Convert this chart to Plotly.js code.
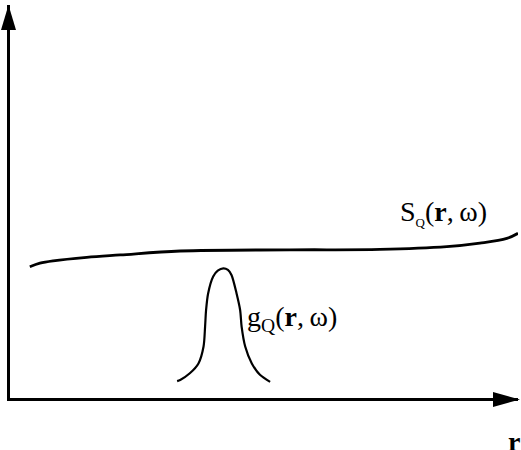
<!DOCTYPE html>
<html>
<head>
<meta charset="utf-8">
<script src="https://cdn.plot.ly/plotly-3.0.1.min.js"></script>
<style>
  html, body { margin: 0; padding: 0; background: #fff; }
  #chart { width: 521px; height: 450px; }
</style>
</head>
<body>
<div id="chart"></div>
<script>
// Schematic: slowly varying S_Q(r, w) vs localized g_Q(r, w)
// values are in arbitrary units (r: 0-100, amplitude: 0-100)

// S_Q(r, w) - nearly flat, rising at both ends
const sR = [3.9, 5.9, 8.5, 15.1, 21.7, 33.5, 55.1, 72.8, 86.0, 92.5, 97.8, 100];
const sAmp = [33.4, 34.3, 34.9, 35.8, 36.4, 37.4, 37.7, 37.8, 38.5, 39.4, 40.6, 41.9];

// g_Q(r, w) - narrow peak
const gR = [32.9, 33.5, 35.4, 37.1, 38.1, 38.4, 38.6, 39.0, 40.0, 40.9, 42.0,
            42.9, 43.6, 44.6, 45.3, 45.6, 46.3, 47.6, 49.2, 51.2];
const gAmp = [4.3, 4.6, 6.3, 8.8, 13.1, 18.1, 22.4, 26.6, 30.9, 32.4, 33.0,
              32.6, 31.3, 26.6, 22.4, 18.1, 13.1, 8.8, 5.9, 4.1];

// label text and anchor values (same 0-100 units as the axes)
const labels = ['S<sub><span style="font-size:13px">Q</span></sub>(<b>r</b>,\u2009\u03c9)',
                'g<sub>Q</sub>(<b>r</b>,\u2009\u03c9)',
                '<b>r</b>'];
const labelR = [76.6, 46.5, 100.6];
const labelAmp = [47.1, 20.2, -11.0];
const labelSide = ['left', 'left', 'right'];

const M = { l: 10, r: 3, t: 5, b: 52 };
const W = 521 - M.l - M.r;
const H = 450 - M.t - M.b;
const px = v => (v - M.l) / W;          // page px -> paper x
const py = v => (450 - M.b - v) / H;    // page px -> paper y

function tri(a, b, c) {
    return `M${px(a[0])},${py(a[1])}L${px(b[0])},${py(b[1])}L${px(c[0])},${py(c[1])}Z`;
}

const ink = '#000';
const font = { family: '"Liberation Serif", "Times New Roman", serif', size: 28, color: ink };

const traces = [
    {
        x: sR, y: sAmp, mode: 'lines', cliponaxis: false,
        line: { color: ink, width: 2.8, shape: 'spline', smoothing: 1 },
        hoverinfo: 'skip'
    },
    {
        x: gR, y: gAmp, mode: 'lines', cliponaxis: false,
        line: { color: ink, width: 2.2, shape: 'spline', smoothing: 0.8 },
        hoverinfo: 'skip'
    }
];

const axisBase = {
    showgrid: false, zeroline: false, showticklabels: false, ticks: '',
    showline: true, linecolor: ink, linewidth: 3, fixedrange: true
};

const layout = {
    width: 521, height: 450,
    margin: M,
    paper_bgcolor: '#fff',
    plot_bgcolor: '#fff',
    showlegend: false,
    font: font,
    xaxis: Object.assign({ range: [0, 100] }, axisBase),
    yaxis: Object.assign({ range: [0, 100] }, axisBase),
    shapes: [
        // arrow heads on the axes
        { type: 'path', xref: 'paper', yref: 'paper', fillcolor: ink, line: { width: 0 },
          path: tri([8.5, 5], [1, 30], [16, 30]) },
        { type: 'path', xref: 'paper', yref: 'paper', fillcolor: ink, line: { width: 0 },
          path: tri([520, 399.5], [493, 392], [493, 407]) }
    ],
    // axes span 0-100, so value/100 is the paper position (lets the r label sit off-axis)
    annotations: labels.map((t, i) => ({
        x: labelR[i] / 100, y: labelAmp[i] / 100, xref: 'paper', yref: 'paper',
        text: t, showarrow: false, xanchor: labelSide[i], yanchor: 'middle',
        borderpad: 0, font: font
    }))
};

Plotly.newPlot('chart', traces, layout, { displayModeBar: false, staticPlot: true });
</script>
</body>
</html>
